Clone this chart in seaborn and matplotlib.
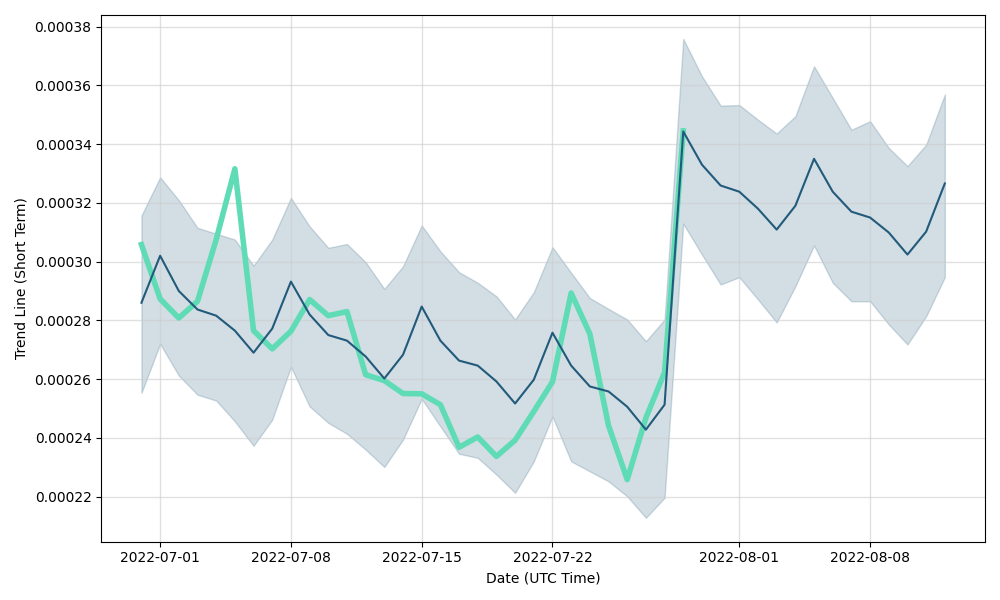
import pandas as pd
import matplotlib
matplotlib.use("Agg")
import matplotlib.pyplot as plt
import seaborn as sns

# daily dates, 2022-06-30 .. 2022-08-12
dates = pd.date_range("2022-06-30", "2022-08-12", freq="D")

trend = [
    0.0002860, 0.0003020, 0.0002900, 0.0002837, 0.0002816, 0.0002765, 0.0002690,
    0.0002772, 0.0002932, 0.0002820, 0.0002750, 0.0002731, 0.0002677, 0.0002602,
    0.0002683, 0.0002847, 0.0002731, 0.0002663, 0.0002646, 0.0002592, 0.0002517,
    0.0002598, 0.0002758, 0.0002646, 0.0002575, 0.0002558, 0.0002506, 0.0002428,
    0.0002513, 0.0003443, 0.0003330, 0.0003259, 0.0003238, 0.0003180, 0.0003109,
    0.0003190, 0.0003350, 0.0003238, 0.0003170, 0.0003150, 0.0003099, 0.0003024,
    0.0003102, 0.0003266,
]

upper = [
    0.0003157, 0.0003287, 0.0003209, 0.0003115, 0.0003095, 0.0003075, 0.0002986,
    0.0003075, 0.0003217, 0.0003120, 0.0003047, 0.0003060, 0.0002998, 0.0002907,
    0.0002984, 0.0003123, 0.0003035, 0.0002964, 0.0002928, 0.0002882, 0.0002803,
    0.0002896, 0.0003049, 0.0002962, 0.0002876, 0.0002839, 0.0002803, 0.0002729,
    0.0002803, 0.0003758, 0.0003631, 0.0003531, 0.0003533, 0.0003483, 0.0003436,
    0.0003495, 0.0003665, 0.0003557, 0.0003449, 0.0003478, 0.0003387, 0.0003325,
    0.0003398, 0.0003569,
]

lower = [
    0.0002553, 0.0002720, 0.0002612, 0.0002547, 0.0002527, 0.0002456, 0.0002373,
    0.0002462, 0.0002642, 0.0002507, 0.0002451, 0.0002414, 0.0002360, 0.0002301,
    0.0002394, 0.0002533, 0.0002439, 0.0002346, 0.0002332, 0.0002275, 0.0002213,
    0.0002320, 0.0002473, 0.0002320, 0.0002286, 0.0002252, 0.0002201, 0.0002128,
    0.0002196, 0.0003129, 0.0003024, 0.0002922, 0.0002947, 0.0002871, 0.0002793,
    0.0002916, 0.0003055, 0.0002928, 0.0002865, 0.0002865, 0.0002786, 0.0002718,
    0.0002814, 0.0002947,
]

# actual price, only up to 2022-07-29
price = [
    0.0003058, 0.0002873, 0.0002808, 0.0002865, 0.0003075, 0.0003316, 0.0002765,
    0.0002703, 0.0002763, 0.0002871, 0.0002816, 0.0002830, 0.0002615, 0.0002595,
    0.0002551, 0.0002550, 0.0002513, 0.0002368, 0.0002403, 0.0002337, 0.0002392,
    0.0002490, 0.0002591, 0.0002893, 0.0002754, 0.0002442, 0.0002258, 0.0002468,
    0.0002623, 0.0003445,
]

DARK = "#225a7b"
GREEN = "#5fdcb5"

df = pd.DataFrame({"date": dates, "trend": trend, "upper": upper, "lower": lower})
df_price = pd.DataFrame({"date": dates[:len(price)], "price": price})

fig, ax = plt.subplots(figsize=(10, 6), dpi=100)

ax.fill_between(df["date"], df["lower"], df["upper"], color=DARK, alpha=0.2)
sns.lineplot(data=df_price, x="date", y="price", ax=ax, color=GREEN, linewidth=4)
sns.lineplot(data=df, x="date", y="trend", ax=ax, color=DARK, linewidth=1.5)

ax.grid(True, color="#cccccc", alpha=0.6, linewidth=1)
ax.set_xlabel("Date (UTC Time)")
ax.set_ylabel("Trend Line (Short Term)")
plt.tight_layout()
plt.savefig("out.png", dpi=100)
plt.close()
